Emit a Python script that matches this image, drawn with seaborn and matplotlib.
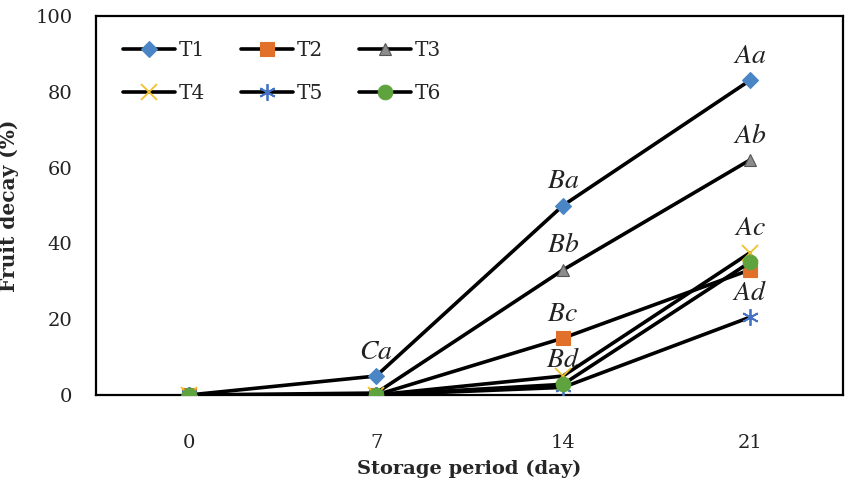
import matplotlib
matplotlib.use("Agg")
import matplotlib.pyplot as plt
import seaborn as sns
import pandas as pd

days = [0, 7, 14, 21]
t1 = [0, 5, 50, 83]
t2 = [0, 0, 15, 33]
t3 = [0, 0.5, 33, 62]
t4 = [0, 0, 5, 37.5]
t5 = [0, 0, 2, 20.5]
t6 = [0, 0, 2.8, 35]
series_names = ["T1", "T2", "T3", "T4", "T5", "T6"]
series_values = [t1, t2, t3, t4, t5, t6]

# letter labels: (text, series, day)
label_texts = ["Ca", "Ba", "Aa", "Bb", "Ab", "Bc", "Bd", "Ac", "Ad"]
label_series = ["T1", "T1", "T1", "T3", "T3", "T2", "T6", "T4", "T5"]
label_days = [7, 14, 21, 14, 21, 14, 14, 21, 21]

sns.set_theme(style="white")
plt.rcParams["font.family"] = ["DejaVu Serif"]
plt.rcParams["mathtext.fontset"] = "stix"

colors = ["#4A86C5", "#E0702A", "#8C8C8C", "#F2C12E", "#4472C4", "#5FA33E"]
markers = ["D", "s", "^", "x", (6, 2, 0), "o"]
msizes = [8, 9.5, 9, 11, 12, 10.5]

fig = plt.figure(figsize=(8.51, 4.87), dpi=100)
ax = fig.add_axes([0.1128, 0.189, 0.878, 0.778])

df = pd.DataFrame({"day": days})
for name, vals, c, m, ms in zip(series_names, series_values, colors, markers, msizes):
    df[name] = vals
    ec = "#555555" if name == "T3" else c
    mew = 1.3 if m in ("x", (6, 2, 0)) else 0.8
    sns.lineplot(data=df, x="day", y=name, ax=ax, color="black", linewidth=2.6,
                 marker=m, markersize=ms, markerfacecolor=c, markeredgecolor=ec,
                 markeredgewidth=mew, label=name, legend=False, zorder=3)

lookup = dict(zip(series_names, series_values))
for txt, s, d in zip(label_texts, label_series, label_days):
    yv = lookup[s][days.index(d)]
    ax.annotate(f"${txt}$", xy=(d, yv), xytext=(0, 18), textcoords="offset points",
                ha="center", va="center", fontsize=20, color="#222222")

ax.set_xlim(-3.5, 24.5)
ax.set_ylim(0, 100)
ax.set_xticks(days)
ax.set_xticklabels([str(d) for d in days])
ax.set_yticks([0, 20, 40, 60, 80, 100])
ax.tick_params(axis="x", length=0, pad=28, labelsize=14, colors="#222222")
ax.tick_params(axis="y", length=0, pad=17, labelsize=14, colors="#222222")
for sp in ax.spines.values():
    sp.set_visible(True)
    sp.set_color("black")
    sp.set_linewidth(1.6)
ax.grid(False)
ax.set_xlabel("Storage period (day)", fontsize=14, fontweight="bold", labelpad=6)
ax.set_ylabel("Fruit decay (%)", fontsize=14.5, fontweight="bold", labelpad=12)

lines = ax.get_lines()[:6]
order = [0, 3, 1, 4, 2, 5]
ax.legend(handles=[lines[i] for i in order], labels=[series_names[i] for i in order],
          ncol=3, loc="upper left",
          bbox_to_anchor=(0.02, 0.965), frameon=False, fontsize=14.5,
          handlelength=2.6, handletextpad=0.15, columnspacing=1.8,
          labelspacing=1.15, borderaxespad=0.2)

fig.savefig("out.png", dpi=100)
